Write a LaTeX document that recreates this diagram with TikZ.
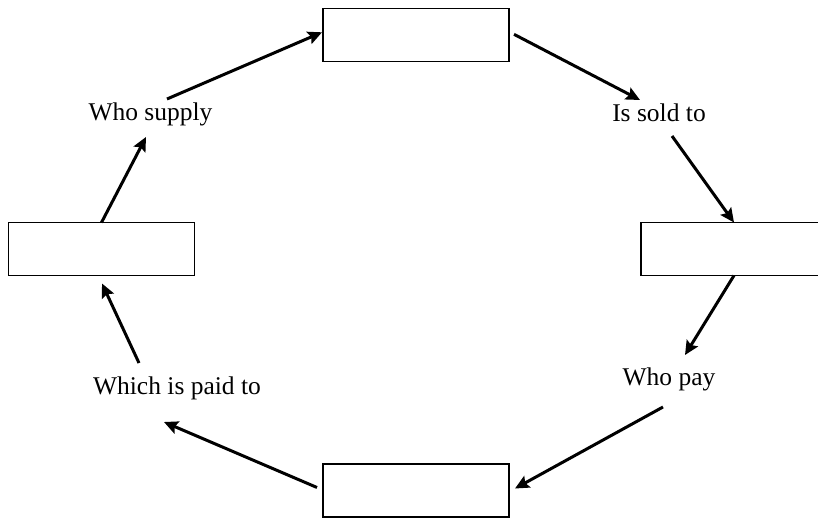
\documentclass[tikz,border=0pt]{standalone}
\usepackage{fontspec}
\setmainfont{Liberation Serif}
\usetikzlibrary{arrows.meta,calc}
\begin{document}
\begin{tikzpicture}[x=0.5pt,y=-0.5pt,
  box/.style={draw, line width=0.7pt, minimum width=93pt, minimum height=26.5pt, inner sep=0pt, outer sep=0pt},
  lbl/.style={inner sep=0pt, anchor=base, font=\fontsize{12.75}{15}\selectfont},
  flow/.style={-{Stealth[length=7pt,width=6.5pt,inset=1.2pt]}, line width=1.5pt}]
\useasboundingbox (0,0) rectangle (818,518);
\clip (0,0) rectangle (818,518);

% the four empty boxes of the cycle
\node[box] (btop)    at (416,35.3)  {};
\node[box] (bright)  at (734,249)   {};
\node[box] (bbottom) at (416,490.5) {};
\node[box] (bleft)   at (101.5,249) {};

% relation labels between the boxes
\node[lbl] (sold)   at (659,122)   {Is sold to};
\node[lbl] (pay)    at (669,385)   {Who pay};
\node[lbl] (paid)   at (177,394)   {Which is paid to};
\node[lbl] (supply) at (150.5,120.5) {Who supply};

% arrow ends next to the labels
\coordinate (soldin)    at (640,100);
\coordinate (soldout)   at (672,136);
\coordinate (payin)     at (685,355);
\coordinate (payout)    at (663,407);
\coordinate (paidin)    at (164,422);
\coordinate (paidout)   at (139,363);
\coordinate (supplyin)  at (146,137);
\coordinate (supplyout) at (167,99);

% clockwise flow
\draw[flow] ($(btop.east)+(5,-1)$) -- (soldin);
\draw[flow] (soldout) -- (bright.north);
\draw[flow] (bright.south) -- (payin);
\draw[flow] (payout) -- ($(bbottom.east)+(6,-2)$);
\draw[flow] ($(bbottom.west)+(-6,-3)$) -- (paidin);
\draw[flow] (paidout) -- ($(bleft.south)+(0.5,8)$);
\draw[flow] (bleft.north) -- (supplyin);
\draw[flow] (supplyout) -- ($(btop.west)+(-1,-3)$);
\end{tikzpicture}
\end{document}
